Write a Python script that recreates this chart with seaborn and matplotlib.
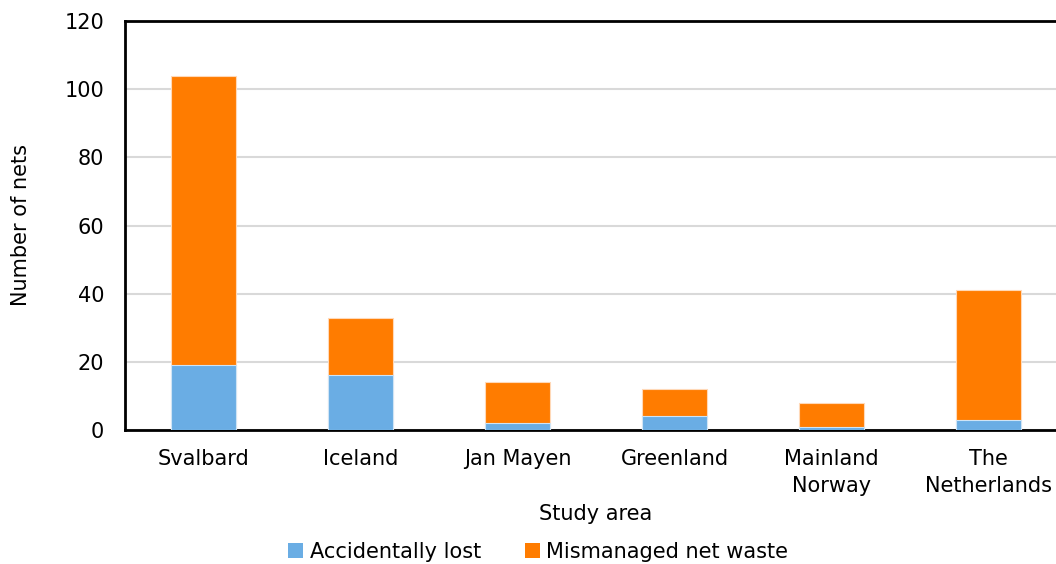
import matplotlib
matplotlib.use("Agg")
import matplotlib.pyplot as plt
import seaborn as sns
import pandas as pd
from matplotlib.patches import Patch

areas = ["Svalbard", "Iceland", "Jan Mayen", "Greenland", "Mainland\nNorway", "The\nNetherlands"]
accidentally_lost = [19, 16, 2, 4, 1, 3]
mismanaged_waste = [85, 17, 12, 8, 7, 38]
y_ticks = [0, 20, 40, 60, 80, 100, 120]

blue = "#6aade4"
orange = "#ff7c00"
fs = 15

sns.set_theme(style="white")
plt.rcParams["font.family"] = ["DejaVu Sans"]
plt.rcParams["text.color"] = "black"
plt.rcParams["axes.labelcolor"] = "black"

df = pd.DataFrame({
    "area": areas,
    "lost": accidentally_lost,
    "waste": mismanaged_waste,
})
df["total"] = df["lost"] + df["waste"]

fig = plt.figure(figsize=(10.56, 5.64), dpi=100)
ax = fig.add_axes([125 / 1056, 1 - 430 / 564, (1067 - 125) / 1056, (430 - 21) / 564])

sns.barplot(data=df, x="area", y="total", color=orange, saturation=1, width=0.41,
            edgecolor="#ffd9b8", linewidth=0.8, ax=ax, zorder=3)
sns.barplot(data=df, x="area", y="lost", color=blue, saturation=1, width=0.41,
            edgecolor="#cfe4f5", linewidth=0.8, ax=ax, zorder=4)

ax.set_ylim(0, 120)
ax.set_xlim(-0.5, len(areas) - 0.5)
ax.set_yticks(y_ticks)
ax.set_xticks(range(len(areas)))
ax.set_xticklabels(areas, linespacing=1.4)
ax.yaxis.grid(True, color="#d9d9d9", linewidth=1.5, zorder=0)
ax.set_axisbelow(True)
ax.tick_params(axis="both", length=0, labelsize=fs, colors="black")
ax.tick_params(axis="y", pad=15)
ax.tick_params(axis="x", pad=14)
ax.set_xlabel("Study area", fontsize=fs, labelpad=6)
ax.set_ylabel("Number of nets", fontsize=fs, labelpad=24)

for side in ["left", "top", "bottom", "right"]:
    ax.spines[side].set_visible(True)
    ax.spines[side].set_color("black")
    ax.spines[side].set_linewidth(2)

handles = [Patch(facecolor=blue, edgecolor="none", label="Accidentally lost"),
           Patch(facecolor=orange, edgecolor="none", label="Mismanaged net waste")]
fig.legend(handles=handles, loc="center", bbox_to_anchor=(538 / 1056, 1 - 552 / 564),
           ncol=2, frameon=False, fontsize=fs, handlelength=0.75, handleheight=0.75,
           handletextpad=0.3, columnspacing=2.1)

fig.savefig("out.png", dpi=100)
